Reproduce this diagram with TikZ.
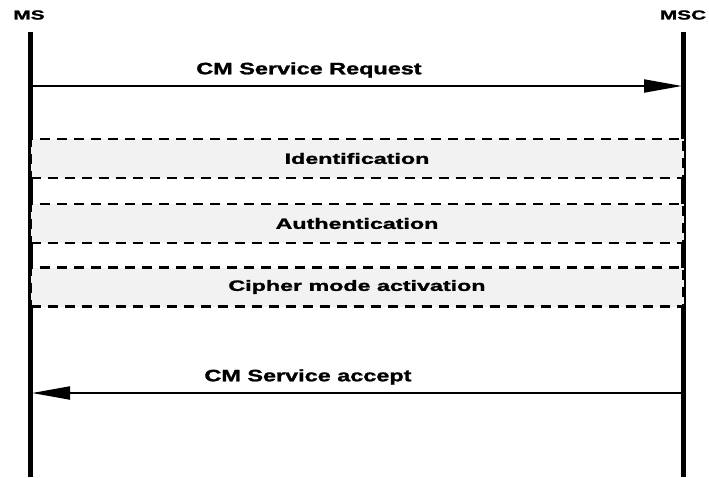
\documentclass[tikz,border=0pt]{standalone}
\usepackage{fontspec}
\setmainfont{Liberation Sans}[BoldFeatures={FakeBold=1.3}]
\usetikzlibrary{arrows.meta}

\tikzset{
  lifeline/.style={line width=5pt},
  msg/.style={line width=2pt, -{Triangle[length=38pt,width=13pt]}},
  entity/.style={font=\fontsize{13}{15}\selectfont\bfseries, inner sep=0pt},
  msglabel/.style={font=\fontsize{16.5}{18}\selectfont\bfseries, inner sep=0pt},
  phase/.style={draw, fill=black!5, line width=2.8pt, dash pattern=on 10pt off 7pt,
    minimum width=653pt, minimum height=39pt, inner sep=0pt,
    font=\fontsize{15}{17}\selectfont\bfseries},
}
\newcommand{\widetext}[2]{\scalebox{#1}[1]{#2}}

\begin{document}
\begin{tikzpicture}[x=1pt,y=-1pt]
  \useasboundingbox (0,0) rectangle (709,477);

  % entities
  \node[entity] (ms)  at (29,15)  {\widetext{1.6}{MS}};
  \node[entity] (msc) at (683,15) {\widetext{1.6}{MSC}};

  % lifelines
  \coordinate (ms-top)  at (30.5,32);
  \coordinate (ms-bot)  at (30.5,477);
  \coordinate (msc-top) at (683.5,32);
  \coordinate (msc-bot) at (683.5,477);
  \draw[lifeline] (ms-top) -- (ms-bot);
  \draw[lifeline] (msc-top) -- (msc-bot);

  % CM Service Request
  \coordinate (req-a) at (30.5,86);
  \coordinate (req-b) at (682,86);
  \draw[msg] (req-a) -- (req-b);
  \node[msglabel] (req) at (309,70) {\widetext{1.42}{CM Service Request}};

  % procedures between MS and MSC
  \node[phase] (ident)  at (357,158.5) {\widetext{1.55}{Identification}};
  \node[phase] (auth)   at (357,223.5) {\widetext{1.55}{Authentication}};
  \node[phase] (cipher) at (357,287)   {\widetext{1.55}{Cipher mode activation}};

  % CM Service accept
  \coordinate (acc-a) at (683.5,393);
  \coordinate (acc-b) at (32,393);
  \draw[msg] (acc-a) -- (acc-b);
  \node[msglabel] (acc) at (308,377) {\widetext{1.42}{CM Service accept}};
\end{tikzpicture}
\end{document}
